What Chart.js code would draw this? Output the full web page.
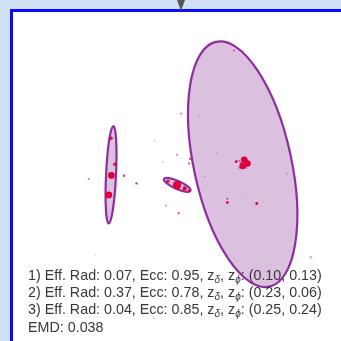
<!DOCTYPE html>
<html>
<head>
<meta charset="utf-8">
<script src="https://cdn.jsdelivr.net/npm/chart.js@4/dist/chart.umd.min.js"></script>
<style>
  html, body { margin: 0; padding: 0; width: 341px; height: 341px; overflow: hidden; background: #cfe1f2; }
  #frame { position: absolute; left: 10px; top: 9px; width: 340px; height: 340px; border: 3px solid #0a0aff; background: #ffffff; }
  #tri { position: absolute; left: 177px; top: 0; width: 0; height: 0; border-left: 4px solid transparent; border-right: 4px solid transparent; border-top: 11px solid #555555; z-index: 5; }
  #cv { position: absolute; left: 0; top: 0; z-index: 2; }
  #txt { position: absolute; left: 28px; top: 267px; z-index: 3; font-family: "Liberation Sans", Arial, sans-serif; font-size: 14.3px; line-height: 17.2px; color: #383838; white-space: nowrap; }
  #txt sub { font-size: 10px; font-style: italic; line-height: 0; vertical-align: -3px; }
</style>
</head>
<body>
<div id="frame"></div>
<div id="tri"></div>
<canvas id="cv" width="341" height="341"></canvas>
<div id="txt"></div>
<script>
// ---- data (plot units) ----
const ellipseCenterX = [1.083, 2.46, 1.775];
const ellipseCenterY = [1.66, 1.77, 1.555];
const ellipseSemiMajor = [0.51, 1.31, 0.152];
const ellipseSemiMinor = [0.052, 0.51, 0.042];
const ellipseAngleDeg = [87.3, 102.3, -24];

const effRad = ["0.07", "0.37", "0.04"];
const ecc = ["0.95", "0.78", "0.85"];
const zDelta = ["0.10", "0.23", "0.25"];
const zPhi = ["0.13", "0.06", "0.24"];
const emd = "0.038";

const pointX = [1.083,1.123,1.087,1.06,0.85,1.217,1.35,1.54,1.817,1.773,1.623,1.91,1.90,2.00,2.067,2.19,
  1.677,1.773,1.853,1.90,1.66,1.79,2.367,2.467,2.10,2.477,2.51,2.46,2.393,2.927,2.30,2.30,2.607,2.467,3.173,1.53,0.92,3.17];
const pointY = [2.043,1.77,1.653,1.45,1.617,1.65,1.57,2.017,2.30,1.87,1.793,1.827,1.777,2.27,1.643,1.893,
  1.593,1.55,1.517,1.493,1.337,1.26,2.96,2.96,3.03,1.817,1.777,1.753,1.80,1.67,1.41,1.37,1.36,1.477,0.803,0.16,0.82,0.79];
const pointSize = [1.8,1.8,3.4,3.4,1,1.2,1.2,0.8,0.9,0.9,0.8,1.1,1.1,0.8,0.8,0.8,
  1.8,4.2,2.1,1.6,0.9,1.1,0.9,0.8,0.8,3.3,3.3,3.3,1.5,0.8,1,1.4,1.4,0.8,0.9,0.8,0.7,0.7];
const pointAlpha = [0.9,0.9,1,1,0.6,0.8,0.8,0.3,0.7,0.6,0.4,0.8,0.7,0.4,0.4,0.3,
  0.9,1,1,0.9,0.6,0.8,0.7,0.4,0.3,1,1,1,0.9,0.4,0.7,1,1,0.3,0.5,0.4,0.3,0.4];

// ---- text ----
const lines = [];
for (let i = 0; i < effRad.length; i++) {
  lines.push((i + 1) + ") Eff. Rad: " + effRad[i] + ", Ecc: " + ecc[i] +
    ", z<sub>\u03B4</sub>, z<sub>\u03D5</sub>: (" + zDelta[i] + ", " + zPhi[i] + ")");
}
lines.push("EMD: " + emd);
document.getElementById("txt").innerHTML = lines.join("<br>");

const ellipsePlugin = {
  id: "ellipses",
  beforeDatasetsDraw(chart) {
    const ctx = chart.ctx;
    const xs = chart.scales.x, ys = chart.scales.y;
    const ux = xs.getPixelForValue(1) - xs.getPixelForValue(0);
    const uy = ys.getPixelForValue(0) - ys.getPixelForValue(1);
    ctx.save();
    for (let i = 0; i < ellipseCenterX.length; i++) {
      const cx = xs.getPixelForValue(ellipseCenterX[i]);
      const cy = ys.getPixelForValue(ellipseCenterY[i]);
      ctx.beginPath();
      ctx.ellipse(cx, cy, ellipseSemiMajor[i] * ux, ellipseSemiMinor[i] * uy,
        -ellipseAngleDeg[i] * Math.PI / 180, 0, 2 * Math.PI);
      ctx.fillStyle = "#dcc0e0";
      ctx.fill();
      ctx.lineWidth = 2.2;
      ctx.strokeStyle = "#8e2e9e";
      ctx.stroke();
    }
    ctx.restore();
  }
};

const pts = pointX.map((x, i) => ({ x: x, y: pointY[i] }));
const centers = ellipseCenterX.map((x, i) => ({ x: x, y: ellipseCenterY[i] }));

new Chart(document.getElementById("cv"), {
  type: "scatter",
  data: {
    datasets: [
      {
        data: centers,
        pointStyle: "crossRot",
        pointRadius: [3, 6, 4],
        borderColor: "rgba(150,70,180,0.7)",
        borderWidth: 1.5,
        order: 2
      },
      {
        data: pts,
        pointRadius: pointSize,
        backgroundColor: pointAlpha.map(a => "rgba(222,0,58," + a + ")"),
        borderWidth: 0,
        order: 1
      }
    ]
  },
  options: {
    responsive: false,
    animation: false,
    events: [],
    layout: { padding: 0 },
    plugins: { legend: { display: false }, tooltip: { enabled: false } },
    scales: {
      x: { type: "linear", min: 0, max: 3.41, display: false },
      y: { type: "linear", min: 0, max: 3.41, display: false }
    }
  },
  plugins: [ellipsePlugin]
});
</script>
</body>
</html>
